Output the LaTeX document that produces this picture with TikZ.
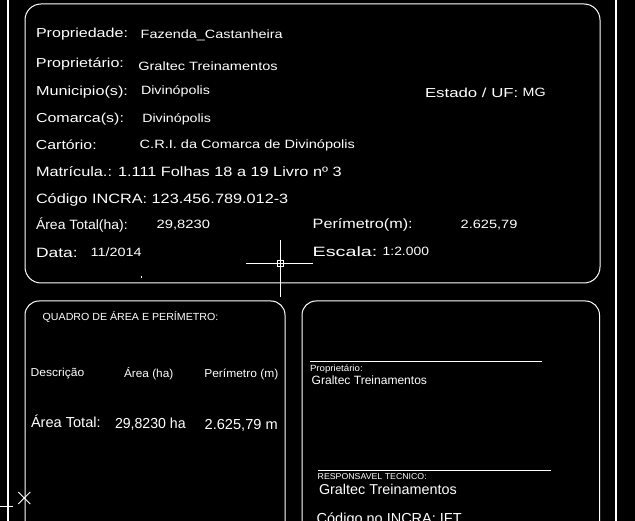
\documentclass[tikz,border=0pt]{standalone}
\usepackage{fontspec}
\usepackage{graphicx}
\setmainfont{Liberation Sans}
\newcommand\tw[3]{\resizebox{#1pt}{\height}{\fontsize{#2pt}{#2pt}\selectfont #3}}
\tikzset{
  txt/.style={anchor=base west, inner sep=0pt, outer sep=0pt, text=white},
  thin line/.style={draw=white, line width=0.9pt},
  frame line/.style={draw=white, line width=2pt},
  panel/.style={draw=white, line width=1pt},
}
\begin{document}
\begin{tikzpicture}[x=1pt,y=-1pt]
\fill[black] (0,0) rectangle (635,521);
\useasboundingbox (0,0) rectangle (635,521);
\clip (0,0) rectangle (635,521);

% outer frame lines
\draw[frame line] (8,0) -- (8,521);
\draw[frame line] (616,0) -- (616,521);
\draw[thin line] (0,506) -- (13,506);
\coordinate (xm) at (24.3,498);
\draw[thin line] ([shift={(-6,-6)}]xm) -- ([shift={(6,6)}]xm);
\draw[thin line] ([shift={(-6,6)}]xm) -- ([shift={(6,-6)}]xm);

% panels
\draw[panel, rounded corners=16pt] (25,4) rectangle (600,283);
\draw[panel, rounded corners=14pt] (25,540) -- (25,301) -- (285,301) -- (285,540);
\draw[panel, rounded corners=14pt] (302,540) -- (302,301) -- (599.5,301) -- (599.5,540);

% crosshair
\coordinate (ch) at (280,263);
\draw[thin line] (280,240) -- (280,297);
\draw[thin line] (246,263) -- (313,263);
\draw[thin line] (277,260) rectangle (283,266);
\draw[thin line] (141.5,276) -- (141.5,278);

% top panel texts
\node[txt] (l1) at (36,37.7) {\tw{92}{13}{Propriedade:}};
\node[txt] (v1) at (140.7,38.5) {\tw{142}{12}{Fazenda\_Castanheira}};
\node[txt] (l2) at (36,68) {\tw{88}{13}{Proprietário:}};
\node[txt] (v2) at (138.3,71) {\tw{139.4}{12}{Graltec Treinamentos}};
\node[txt] (l3) at (36,95.3) {\tw{92}{13}{Municipio(s):}};
\node[txt] (v3) at (141,95) {\tw{69}{12}{Divinópolis}};
\node[txt] (l4) at (36,122.7) {\tw{88}{13}{Comarca(s):}};
\node[txt] (v4) at (142.3,123) {\tw{68.7}{12}{Divinópolis}};
\node[txt] (l5) at (36,150) {\tw{60.7}{13}{Cartório:}};
\node[txt] (v5) at (139.7,149) {\tw{215.3}{12}{C.R.I. da Comarca de Divinópolis}};
\node[txt] (l6) at (36,177) {\tw{305.7}{13.5}{Matrícula.: 1.111 Folhas 18 a 19 Livro nº 3}};
\node[txt] (l7) at (36,203.3) {\tw{252.3}{13.5}{Código INCRA: 123.456.789.012-3}};
\node[txt] (l8) at (36,229.5) {\tw{91.7}{13.5}{Área Total(ha):}};
\node[txt] (v8) at (156.7,229) {\tw{53.3}{12}{29,8230}};
\node[txt] (l9) at (36,257.5) {\tw{41.7}{13.5}{Data:}};
\node[txt] (v9) at (90.7,257) {\tw{51}{12}{11/2014}};
\node[txt] (l10) at (312.7,229) {\tw{100}{13.5}{Perímetro(m):}};
\node[txt] (v10) at (460.7,228.3) {\tw{56.7}{12}{2.625,79}};
\node[txt] (l11) at (312.7,256.7) {\tw{64.7}{13.5}{Escala:}};
\node[txt] (v11) at (382.7,256) {\tw{46.3}{12}{1:2.000}};
\node[txt] (l12) at (425,97.3) {\tw{93.3}{13}{Estado / UF:}};
\node[txt] (v12) at (522.7,96.7) {\tw{23}{12}{MG}};

% lower left panel
\node[txt] (q0) at (42.7,320.7) {\tw{175.6}{10.3}{QUADRO DE ÁREA E PERÍMETRO:}};
\node[txt] (q1) at (30.7,376.7) {\tw{53.6}{11.5}{Descrição}};
\node[txt] (q2) at (124,377.3) {\tw{49.3}{11.5}{Área (ha)}};
\node[txt] (q3) at (204.3,377.5) {\tw{74}{11.5}{Perímetro (m)}};
\node[txt] (q4) at (31,427.3) {\tw{69.7}{14.5}{Área Total:}};
\node[txt] (q5) at (115,428.3) {\tw{70.7}{14.5}{29,8230 ha}};
\node[txt] (q6) at (204.7,429.3) {\tw{73}{14.5}{2.625,79 m}};

% lower right panel
\draw[thin line] (310,361) -- (542,361);
\node[txt] (s1) at (310,371.7) {\tw{52.7}{9}{Proprietário:}};
\node[txt] (s2) at (311.7,384.3) {\tw{115.3}{12}{Graltec Treinamentos}};
\draw[thin line] (318,470.7) -- (551,470.7);
\node[txt] (s3) at (317.7,479) {\tw{109}{8.5}{RESPONSAVEL TECNICO:}};
\node[txt] (s4) at (319,494) {\tw{137.7}{14.3}{Graltec Treinamentos}};
\node[txt] (s5) at (316.7,523.5) {\tw{145}{14.5}{Código no INCRA: IFT}};
\end{tikzpicture}
\end{document}
